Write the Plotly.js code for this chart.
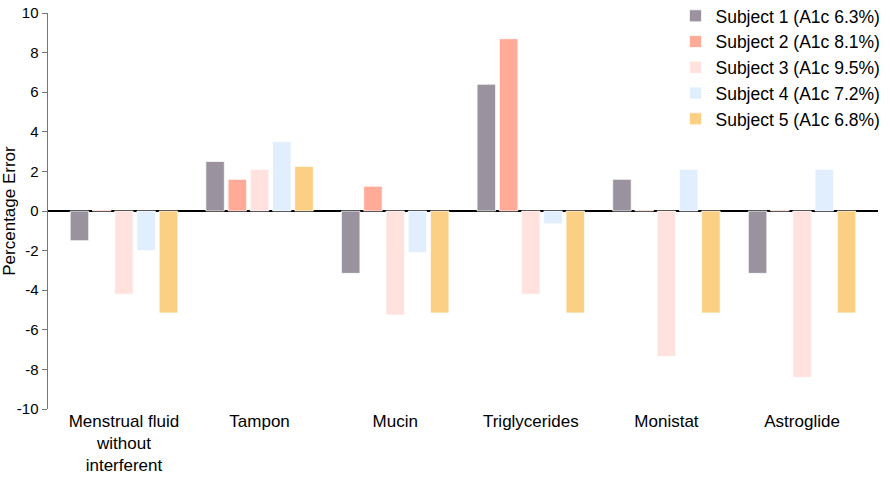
<!DOCTYPE html>
<html>
<head>
<meta charset="utf-8">
<script src="https://cdn.plot.ly/plotly-3.0.1.min.js"></script>
<style>
  html, body { margin: 0; padding: 0; background: #fff; }
  #chart { width: 890px; height: 477px; }
</style>
</head>
<body>
<div id="chart"></div>
<script>
// interferent categories on the x axis
let categories = ['Menstrual fluid<br>without<br>interferent', 'Tampon', 'Mucin',
                  'Triglycerides', 'Monistat', 'Astroglide'];

// legend names for each subject
let subjectNames = ['Subject 1 (A1c 6.3%)', 'Subject 2 (A1c 8.1%)', 'Subject 3 (A1c 9.5%)',
                    'Subject 4 (A1c 7.2%)', 'Subject 5 (A1c 6.8%)'];

// percentage error for each subject, one value per category
let subject1 = [-1.5, 2.5, -3.15, 6.4, 1.6, -3.15];
let subject2 = [0.05, 1.6, 1.25, 8.7, 0.05, 0.05];
let subject3 = [-4.2, 2.1, -5.25, -4.2, -7.35, -8.4];
let subject4 = [-2.0, 3.5, -2.1, -0.65, 2.1, 2.1];
let subject5 = [-5.15, 2.25, -5.15, -5.15, -5.15, -5.15];

let yTicks = [-10, -8, -6, -4, -2, 0, 2, 4, 6, 8, 10];

let colors = ['#9b929f', '#ffab97', '#ffe2de', '#e1eefd', '#fbcf84'];
let allValues = [subject1, subject2, subject3, subject4, subject5];

// one bar trace per subject
let data = allValues.map(function (vals, i) {
    return {
        x: categories,
        y: vals,
        type: 'bar',
        name: subjectNames[i],
        marker: {
            color: colors[i],
            line: { color: 'rgba(255,255,255,0.7)', width: 1 }
        },
        hoverinfo: 'none'
    };
});

let layout = {
    width: 890,
    height: 477,
    margin: { l: 48, r: 12, t: 13, b: 68, autoexpand: false },
    paper_bgcolor: '#ffffff',
    plot_bgcolor: '#ffffff',
    font: { family: 'Liberation Sans, Arial, sans-serif', color: '#000' },
    barmode: 'group',
    bargap: 0.18,
    bargroupgap: 0.17,
    showlegend: true,
    legend: {
        x: 0.756, xanchor: 'left',
        y: 1.038, yanchor: 'top',
        font: { size: 17.5, color: '#000' },
        itemwidth: 30,
        tracegroupgap: 0,
        bgcolor: 'rgba(0,0,0,0)'
    },
    xaxis: {
        type: 'category',
        range: [-0.56, 5.56],
        showline: false,
        showgrid: false,
        ticks: '',
        tickfont: { size: 17, color: '#000' },
        fixedrange: true
    },
    yaxis: {
        range: [-10, 10],
        tickvals: yTicks,
        ticktext: yTicks.map(String),
        showgrid: false,
        showline: true,
        linecolor: '#777',
        linewidth: 1.5,
        ticks: 'outside',
        ticklen: 5,
        tickcolor: '#777',
        tickfont: { size: 15, color: '#000' },
        zeroline: true,
        zerolinecolor: '#000',
        zerolinewidth: 1.5,
        title: { text: 'Percentage Error', font: { size: 17, color: '#000' }, standoff: 6 },
        fixedrange: true
    }
};

Plotly.newPlot('chart', data, layout, { displayModeBar: false, staticPlot: true });
</script>
</body>
</html>
